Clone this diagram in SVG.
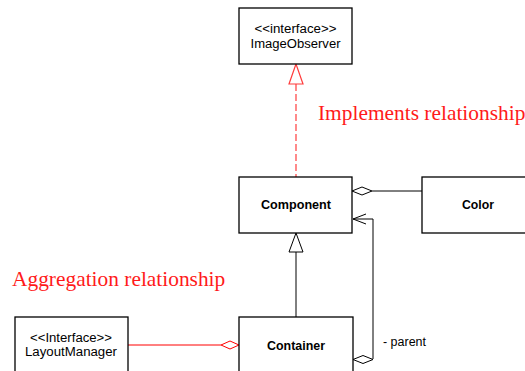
<svg xmlns="http://www.w3.org/2000/svg" width="525" height="371" viewBox="0 0 525 371">
  <style>
    .box { fill: #fff; stroke: #000; stroke-width: 1.3; }
    .lbl { font-family: "Liberation Sans", Arial, sans-serif; font-size: 12.5px; fill: #000; text-anchor: middle; }
    .b { font-weight: bold; font-size: 12.5px; }
    .note { font-family: "Liberation Serif", "Times New Roman", serif; font-size: 21.4px; fill: #ff1a1a; }
    .line { fill: none; stroke: #000; stroke-width: 1; }
    .red { fill: none; stroke: #ff0000; stroke-width: 1; }
  </style>
  <rect width="525" height="371" fill="#fff"/>

  <g id="connectors">
    <!-- realization: Component implements ImageObserver -->
    <line x1="296" y1="84" x2="296" y2="177" stroke="#ff3c3c" stroke-width="1.2" stroke-dasharray="7 3"/>
    <polygon points="296,64 289,84 303,84" fill="#fff" stroke="#ff3c3c" stroke-width="1.2"/>
    <!-- generalization: Container extends Component -->
    <line class="line" x1="296" y1="252" x2="296" y2="317"/>
    <polygon points="296,233 289,252 303,252" fill="#fff" stroke="#000" stroke-width="1"/>
    <!-- aggregation: Component has Color -->
    <line class="line" x1="372" y1="191" x2="422" y2="191"/>
    <polygon points="352,191 362,187 372,191 362,195" fill="#fff" stroke="#000" stroke-width="1"/>
    <!-- parent association: Container to Component -->
    <polyline class="line" points="373,359 373,219 353,219"/>
    <polyline class="line" points="366,214 353,219 366,224"/>
    <polygon points="353,359.5 363,355.5 373,359.5 363,363.5" fill="#fff" stroke="#000" stroke-width="1"/>
    <text x="383" y="346" font-family="'Liberation Sans', Arial, sans-serif" font-size="12.5" fill="#000" textLength="43" lengthAdjust="spacingAndGlyphs">- parent</text>
    <!-- aggregation: Container has LayoutManager -->
    <line class="red" x1="128" y1="345" x2="221" y2="345"/>
    <polygon points="221,345 230,341 239,345 230,349" fill="#fff" stroke="#ff0000" stroke-width="1"/>
  </g>

  <g id="image-observer">
    <rect class="box" x="239" y="8" width="113" height="56"/>
    <text class="lbl" x="295.5" y="33" textLength="82" lengthAdjust="spacingAndGlyphs">&lt;&lt;interface&gt;&gt;</text>
    <text class="lbl" x="295.5" y="47.5" textLength="90" lengthAdjust="spacingAndGlyphs">ImageObserver</text>
  </g>

  <g id="component">
    <rect class="box" x="239" y="177" width="113" height="56"/>
    <text class="lbl b" x="296" y="208.5" textLength="70" lengthAdjust="spacingAndGlyphs">Component</text>
  </g>

  <g id="color">
    <rect class="box" x="422" y="177" width="113" height="56"/>
    <text class="lbl b" x="478" y="208.5" textLength="32" lengthAdjust="spacingAndGlyphs">Color</text>
  </g>

  <g id="container">
    <rect class="box" x="239" y="317" width="114" height="60"/>
    <text class="lbl b" x="296" y="349.5" textLength="58" lengthAdjust="spacingAndGlyphs">Container</text>
  </g>

  <g id="layout-manager">
    <rect class="box" x="15" y="317" width="113" height="60"/>
    <text class="lbl" x="71" y="341.5" textLength="82" lengthAdjust="spacingAndGlyphs">&lt;&lt;Interface&gt;&gt;</text>
    <text class="lbl" x="71" y="356" textLength="92" lengthAdjust="spacingAndGlyphs">LayoutManager</text>
  </g>

  <g id="notes">
    <text class="note" x="318" y="120">Implements relationship</text>
    <text class="note" x="12" y="286">Aggregation relationship</text>
  </g>
</svg>
